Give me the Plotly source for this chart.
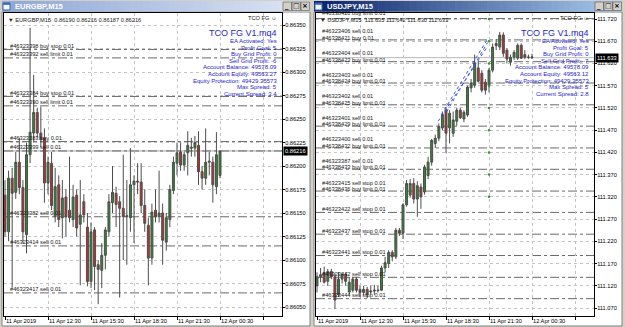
import plotly.graph_objects as go

W, H = 625, 327

# ---------------- data ----------------
bars = list(range(61))

eur_open = [0.86169,0.86130,0.86187,0.86172,0.86204,0.86177,0.86127,0.86212,0.86235,0.86257,
            0.86235,0.86230,0.86182,0.86203,0.86146,0.86180,0.86145,0.86167,0.86153,0.86143,
            0.86169,0.86138,0.86162,0.86135,0.86077,0.86132,0.86095,0.86089,0.86105,0.86130,
            0.86161,0.86171,0.86162,0.86155,0.86146,0.86145,0.86180,0.86184,0.86183,0.86158,
            0.86137,0.86102,0.86153,0.86146,0.86150,0.86119,0.86143,0.86174,0.86203,0.86215,
            0.86201,0.86214,0.86220,0.86219,0.86222,0.86194,0.86187,0.86204,0.86204,0.86178,0.86190]
eur_high = [0.86185,0.86195,0.86198,0.86215,0.86230,0.86185,0.86225,0.86347,0.86297,0.86262,
            0.86263,0.86240,0.86210,0.86215,0.86198,0.86190,0.86185,0.86175,0.86210,0.86180,
            0.86175,0.86185,0.86170,0.86150,0.86140,0.86135,0.86100,0.86118,0.86135,0.86170,
            0.86200,0.86178,0.86168,0.86212,0.86185,0.86219,0.86190,0.86203,0.86203,0.86175,
            0.86145,0.86160,0.86175,0.86195,0.86160,0.86150,0.86180,0.86210,0.86225,0.86225,
            0.86215,0.86237,0.86230,0.86232,0.86237,0.86200,0.86240,0.86215,0.86210,0.86236,0.86216]
eur_low = [0.86125,0.86120,0.86071,0.86165,0.86170,0.86118,0.86107,0.86203,0.86225,0.86230,
           0.86220,0.86161,0.86170,0.86153,0.86140,0.86135,0.86123,0.86125,0.86140,0.86135,
           0.86125,0.86073,0.86140,0.86072,0.86070,0.86068,0.86053,0.86070,0.86090,0.86125,
           0.86150,0.86135,0.86060,0.86100,0.86095,0.86130,0.86118,0.86170,0.86150,0.86130,
           0.86073,0.86095,0.86140,0.86140,0.86095,0.86110,0.86135,0.86170,0.86190,0.86195,
           0.86195,0.86190,0.86210,0.86210,0.86180,0.86175,0.86180,0.86190,0.86161,0.86170,0.86187]
eur_close = [0.86130,0.86187,0.86171,0.86204,0.86177,0.86130,0.86212,0.86236,0.86257,0.86235,
             0.86228,0.86182,0.86204,0.86158,0.86178,0.86143,0.86166,0.86146,0.86145,0.86167,
             0.86134,0.86148,0.86148,0.86077,0.86130,0.86093,0.86090,0.86105,0.86132,0.86162,
             0.86172,0.86159,0.86155,0.86146,0.86147,0.86180,0.86184,0.86183,0.86158,0.86139,
             0.86102,0.86151,0.86146,0.86150,0.86121,0.86145,0.86175,0.86204,0.86214,0.86201,
             0.86212,0.86222,0.86219,0.86225,0.86194,0.86187,0.86204,0.86205,0.86180,0.86212,0.86216]

jpy_open = [111.120,111.140,111.150,111.130,111.152,111.140,111.100,111.135,111.145,111.106,
            111.110,111.135,111.112,111.105,111.112,111.106,111.108,111.109,111.110,111.160,
            111.170,111.195,111.185,111.245,111.238,111.302,111.324,111.350,111.315,111.342,
            111.331,111.368,111.398,111.440,111.452,111.475,111.515,111.475,111.463,111.490,
            111.515,111.495,111.504,111.565,111.571,111.610,111.598,111.578,111.571,111.605,
            111.665,111.657,111.684,111.650,111.623,111.634,111.632,111.661,111.640,111.634,111.635]
jpy_high = [111.150,111.160,111.163,111.158,111.158,111.148,111.150,111.150,111.150,111.140,
            111.140,111.140,111.120,111.120,111.118,111.120,111.122,111.120,111.165,111.185,
            111.200,111.200,111.250,111.250,111.306,111.358,111.360,111.362,111.355,111.350,
            111.392,111.410,111.450,111.460,111.485,111.512,111.522,111.515,111.512,111.520,
            111.520,111.515,111.570,111.585,111.640,111.625,111.605,111.585,111.610,111.665,
            111.675,111.691,111.690,111.655,111.640,111.650,111.665,111.665,111.650,111.640,111.642]
jpy_low = [111.105,111.128,111.125,111.120,111.135,111.068,111.095,111.125,111.120,111.100,
           111.105,111.105,111.095,111.100,111.092,111.100,111.100,111.105,111.108,111.150,
           111.160,111.175,111.180,111.232,111.225,111.298,111.318,111.305,111.275,111.293,
           111.325,111.360,111.390,111.430,111.445,111.470,111.419,111.440,111.455,111.480,
           111.495,111.488,111.500,111.555,111.565,111.578,111.555,111.550,111.555,111.600,
           111.650,111.650,111.635,111.620,111.615,111.628,111.628,111.630,111.630,111.630,111.630]
jpy_close = [111.140,111.145,111.128,111.152,111.140,111.088,111.135,111.145,111.130,111.128,
             111.135,111.110,111.105,111.112,111.100,111.108,111.110,111.110,111.160,111.172,
             111.195,111.185,111.245,111.238,111.302,111.350,111.350,111.315,111.345,111.320,
             111.387,111.398,111.447,111.452,111.478,111.505,111.463,111.508,111.493,111.515,
             111.498,111.510,111.567,111.576,111.621,111.580,111.560,111.560,111.605,111.657,
             111.660,111.684,111.643,111.630,111.634,111.645,111.661,111.632,111.634,111.634,111.633]

x_label_bars = [0, 12, 24, 36, 48, 60]
x_labels = ["11 Apr 2019", "11 Apr 12:30", "11 Apr 15:30", "11 Apr 18:30", "11 Apr 21:30", "12 Apr 00:30"]
x_grid_bars = [0, 12, 24, 36, 48, 60, 72]

eur_yticks = [0.86050,0.86075,0.86100,0.86125,0.86150,0.86175,0.86200,0.86225,0.86250,0.86275,0.86300,0.86325,0.86350]
eur_yticktext = ["0.86050","0.86075","0.86100","0.86125","0.86150","0.86175","0.86200","0.86225","0.86250","0.86275","0.86300","0.86325","0.86350"]
jpy_yticks = [111.070,111.120,111.170,111.220,111.270,111.320,111.370,111.420,111.470,111.520,111.570,111.620,111.670,111.720]
jpy_yticktext = ["111.070","111.120","111.170","111.220","111.270","111.320","111.370","111.420","111.470","111.520","111.570","111.620","111.670","111.720"]

eur_range = [0.8604043, 0.8636277]
jpy_range = [111.0520, 111.7335]
x_range = [-0.28, 77.3]

eur_order_labels = ["#46323398 buy stop 0.01", "#46323392 sell limit 0.01", "#46323384 buy stop 0.01",
                    "#46323390 sell limit 0.01", "#46323383 buy 0.01", "#46323399 sell 0.01",
                    "#46323382 sell 0.01", "#46323414 sell 0.01", "#46323417 sell 0.01"]
eur_order_prices = [0.86324, 0.86315, 0.86274, 0.86264, 0.86226, 0.86216, 0.86146, 0.86115, 0.86065]

jpy_order_prices = [111.721, 111.673, 111.624, 111.576, 111.527, 111.479, 111.430, 111.382,
                    111.333, 111.285, 111.236, 111.188, 111.139, 111.091]
jpy_buy_labels = ["#46338420 buy limit 0.01", "#46338421 buy 0.01", "#46338423 buy limit 0.01",
                  "#46338424 buy limit 0.01", "#46338425 buy limit 0.01", "#46338429 buy limit 0.01",
                  "#46338432 buy limit 0.01", "#46338433 buy limit 0.01", "#46338436 buy limit 0.01",
                  "", "", "", "", ""]
jpy_sell_labels = ["", "#46323406 sell 0.01", "#46323404 sell 0.01", "#46323403 sell 0.01",
                   "#46323402 sell 0.01", "#46323401 sell 0.01", "#46323400 sell 0.01",
                   "#46323387 sell 0.01", "#46323415 sell stop 0.01", "#46323422 sell stop 0.01",
                   "#46323437 sell stop 0.01", "#46323441 sell stop 0.01", "#46323442 sell stop 0.01",
                   "#46323444 sell stop 0.01"]

jpy_trade_x0 = [33.8, 34.7, 36.2]
jpy_trade_y0 = [111.490, 111.505, 111.512]
jpy_trade_x1 = [47.3, 47.6, 47.6]
jpy_trade_y1 = [111.655, 111.675, 111.667]

jpy_dot_x = [48, 48, 48, 48, 48, 48, 48, 48, 48]
jpy_dot_y = [111.720, 111.670, 111.620, 111.570, 111.520, 111.470, 111.420, 111.370, 111.320]

eur_title = "EURGBP,M15"
jpy_title = "USDJPY,M15"
eur_header = "\u25BC EURGBP,M15\u00a0\u00a00.86190 0.86216 0.86187 0.86216"
jpy_header = "\u25BC USDJPY,M15\u00a0\u00a0111.635 111.642 111.630 111.633"
eur_bid = 0.86216
jpy_bid = 111.633
eur_bid_text = "0.86216"
jpy_bid_text = "111.633"

ea_name = "TCO FG V1.mq4"
eur_comment = ["EA Activated: Yes", "Profit Goal: 5", "Buy Grid Profit: 0", "Sell Grid Profit: -6",
               "Account Balance: 49578.09", "Account Equity: 49563.27",
               "Equity Protection: 49429.35573", "Max Spread: 5", "Current Spread: 3.4"]
jpy_comment = ["EA Activated: Yes", "Profit Goal: 5", "Buy Grid Profit: 0", "Sell Grid Profit: -7",
               "Account Balance: 49578.09", "Account Equity: 49563.12",
               "Equity Protection: 49429.35573", "Max Spread: 5", "Current Spread: 2.8"]

# ---------------- helpers ----------------
def fx(p):
    return p / W

def fy(p):
    return 1 - p / H

FONT = "Liberation Sans, Arial, sans-serif"
SMALL = 5.7
shapes = []
annotations = []

def hexrgb(c):
    c = c.lstrip('#')
    return [int(c[i:i + 2], 16) for i in (0, 2, 4)]

def gradient(x0, x1, y0, y1, c0, c1, n=48):
    a, b = hexrgb(c0), hexrgb(c1)
    for k in range(n):
        t = k / (n - 1)
        col = "rgb(%d,%d,%d)" % tuple(round(a[i] + (b[i] - a[i]) * t) for i in range(3))
        xa = x0 + (x1 - x0) * k / n
        xb = x0 + (x1 - x0) * (k + 1) / n + 0.6
        shapes.append(dict(type="rect", xref="paper", yref="paper", x0=fx(xa), x1=fx(min(xb, x1)),
                           y0=fy(y1), y1=fy(y0), fillcolor=col, line_width=0, layer="above"))

def window(ox, title, active):
    shapes.append(dict(type="rect", xref="paper", yref="paper", x0=fx(ox + 2), x1=fx(ox + 310),
                       y0=fy(326), y1=fy(12), fillcolor="white",
                       line=dict(color="#808080", width=1), layer="below"))
    if active:
        gradient(ox + 2, ox + 310, 1, 11.5, "#0a246a", "#a6caf0")
    else:
        gradient(ox + 2, ox + 310, 1, 11.5, "#8ea8d6", "#dce5f4")
    shapes.append(dict(type="rect", xref="paper", yref="paper", x0=fx(ox + 3), x1=fx(ox + 10),
                       y0=fy(10), y1=fy(3), fillcolor="#f4f7fc", line=dict(color="#3c64b4", width=1),
                       layer="above"))
    shapes.append(dict(type="rect", xref="paper", yref="paper", x0=fx(ox + 3), x1=fx(ox + 10),
                       y0=fy(4.8), y1=fy(3), fillcolor="#3c64b4", line_width=0, layer="above"))
    annotations.append(dict(xref="paper", yref="paper", x=fx(ox + 13), y=fy(6.3), text="<b>%s</b>" % title,
                            showarrow=False, xanchor="left", yanchor="middle",
                            font=dict(family=FONT, size=7.5, color="white")))
    for k, glyph in enumerate(["_", "\u25A1", "\u00D7"]):
        bx = ox + 283 + 9 * k
        shapes.append(dict(type="rect", xref="paper", yref="paper", x0=fx(bx), x1=fx(bx + 8.5),
                           y0=fy(10.5), y1=fy(2), fillcolor="#d4d0c8",
                           line=dict(color="#505050", width=0.6), layer="above"))
        annotations.append(dict(xref="paper", yref="paper", x=fx(bx + 4.3), y=fy(6.2), text="<b>%s</b>" % glyph,
                                showarrow=False, xanchor="center", yanchor="middle",
                                font=dict(family="DejaVu Sans", size=7, color="black")))

window(0, eur_title, False)
window(312, jpy_title, True)

# ---------------- figure ----------------
fig = go.Figure()

inc = dict(line=dict(color="#4d4d4d", width=1), fillcolor="#2d8a2d")
dec = dict(line=dict(color="#4d4d4d", width=1), fillcolor="#c22d28")

fig.add_trace(go.Candlestick(x=bars, open=eur_open, high=eur_high, low=eur_low, close=eur_close,
                             increasing=inc, decreasing=dec, whiskerwidth=0, showlegend=False,
                             xaxis="x", yaxis="y", hoverinfo="skip"))
fig.add_trace(go.Candlestick(x=bars, open=jpy_open, high=jpy_high, low=jpy_low, close=jpy_close,
                             increasing=inc, decreasing=dec, whiskerwidth=0, showlegend=False,
                             xaxis="x2", yaxis="y2", hoverinfo="skip"))

for k in range(len(jpy_trade_x0)):
    fig.add_trace(go.Scatter(x=[jpy_trade_x0[k], jpy_trade_x1[k]], y=[jpy_trade_y0[k], jpy_trade_y1[k]],
                             mode="lines", line=dict(color="#3a52e0", width=1, dash="dot"),
                             showlegend=False, xaxis="x2", yaxis="y2", hoverinfo="skip"))
fig.add_trace(go.Scatter(x=jpy_dot_x, y=jpy_dot_y, mode="markers",
                         marker=dict(color="#2f9a2f", size=2.5), showlegend=False,
                         xaxis="x2", yaxis="y2", hoverinfo="skip"))

ORDER_LINE = dict(color="#6a6a6a", width=1, dash="dashdot")
LABEL_FONT = dict(family=FONT, size=SMALL, color="#1a1a1a")

shapes.append(dict(type="line", xref="x domain", yref="y", x0=0, x1=1, y0=eur_bid, y1=eur_bid,
                   line=dict(color="#a8a8a8", width=1), layer="below"))
shapes.append(dict(type="line", xref="x2 domain", yref="y2", x0=0, x1=1, y0=jpy_bid, y1=jpy_bid,
                   line=dict(color="#b8b8b8", width=1), layer="below"))

for lab, p in zip(eur_order_labels, eur_order_prices):
    shapes.append(dict(type="line", xref="x domain", yref="y", x0=0, x1=1, y0=p, y1=p,
                       line=ORDER_LINE, layer="below"))
    annotations.append(dict(xref="x domain", yref="y", x=0.014, y=p, yshift=3.5, text=lab,
                            showarrow=False, xanchor="left", yanchor="middle", font=LABEL_FONT))

for k, (p, bl, sl) in enumerate(zip(jpy_order_prices, jpy_buy_labels, jpy_sell_labels)):
    shapes.append(dict(type="line", xref="x2 domain", yref="y2", x0=0, x1=1, y0=p, y1=p,
                       line=ORDER_LINE, layer="below"))
    if bl:
        annotations.append(dict(xref="x2 domain", yref="y2", x=0.014, y=p, yshift=6 if k == 0 else 2,
                                text=bl, showarrow=False, xanchor="left", yanchor="middle",
                                font=LABEL_FONT))
    if sl:
        annotations.append(dict(xref="x2 domain", yref="y2", x=0.014, y=p, yshift=8.5 if bl else 3.5,
                                text=sl, showarrow=False, xanchor="left", yanchor="middle",
                                font=LABEL_FONT))

for ox, header, comment in [(0, eur_header, eur_comment), (312, jpy_header, jpy_comment)]:
    annotations.append(dict(xref="paper", yref="paper", x=fx(ox + 6), y=fy(19.6), text=header,
                            showarrow=False, xanchor="left", yanchor="middle", font=LABEL_FONT))
    annotations.append(dict(xref="paper", yref="paper", x=fx(ox + 279), y=fy(18.3), text="TCO FG \u263A",
                            showarrow=False, xanchor="right", yanchor="middle", font=LABEL_FONT))
    annotations.append(dict(xref="paper", yref="paper", x=fx(ox + 279), y=fy(32.5), text=ea_name,
                            showarrow=False, xanchor="right", yanchor="middle",
                            font=dict(family=FONT, size=9, color="#2626cc")))
    for k, line in enumerate(comment):
        annotations.append(dict(xref="paper", yref="paper", x=fx(ox + 279), y=fy(41 + 6.6 * k), text=line,
                                showarrow=False, xanchor="right", yanchor="middle",
                                font=dict(family=FONT, size=6.0, color="#2626cc")))

for xa in ["x", "x2"]:
    for b, lab in zip(x_label_bars, x_labels):
        annotations.append(dict(xref=xa, yref="paper", x=b, y=fy(321), text=lab, xshift=-1,
                                showarrow=False, xanchor="left", yanchor="middle",
                                font=dict(family=FONT, size=SMALL, color="black")))

annotations.append(dict(xref="paper", yref="y", x=fx(283), y=eur_bid, text=eur_bid_text, showarrow=False,
                        xanchor="left", yanchor="middle", bgcolor="black", borderpad=1,
                        font=dict(family=FONT, size=SMALL, color="white")))
annotations.append(dict(xref="paper", yref="y2", x=fx(595), y=jpy_bid, text=jpy_bid_text, showarrow=False,
                        xanchor="left", yanchor="middle", bgcolor="black", borderpad=1,
                        font=dict(family=FONT, size=SMALL, color="white")))

xcommon = dict(range=x_range, showgrid=True, gridcolor="#c4c4c4", griddash="dot", gridwidth=1,
               tickmode="array", tickvals=x_grid_bars, showticklabels=False, ticks="outside",
               ticklen=3, tickcolor="black", showline=True, linecolor="black", linewidth=1,
               mirror=True, zeroline=False, rangeslider=dict(visible=False), fixedrange=True)
ycommon = dict(side="right", showgrid=True, gridcolor="#c4c4c4", griddash="dot", gridwidth=1,
               tickmode="array", ticks="outside", ticklen=2, tickcolor="black", showline=True,
               linecolor="black", linewidth=1, mirror=True, zeroline=False, ticklabelstandoff=-1,
               tickfont=dict(family=FONT, size=SMALL, color="black"), fixedrange=True)

fig.update_layout(
    width=W, height=H, margin=dict(l=0, r=0, t=0, b=0),
    paper_bgcolor="#d4d0c8", plot_bgcolor="white", showlegend=False, boxgap=0.22,
    xaxis=dict(domain=[fx(4), fx(282)], anchor="y", **xcommon),
    xaxis2=dict(domain=[fx(316), fx(594)], anchor="y2", **xcommon),
    yaxis=dict(domain=[fy(316), fy(13)], anchor="x", range=eur_range, tickvals=eur_yticks,
               ticktext=eur_yticktext, **ycommon),
    yaxis2=dict(domain=[fy(316), fy(13)], anchor="x2", range=jpy_range, tickvals=jpy_yticks,
                ticktext=jpy_yticktext, **ycommon),
    shapes=shapes, annotations=annotations,
)

fig.write_html("out.html")
